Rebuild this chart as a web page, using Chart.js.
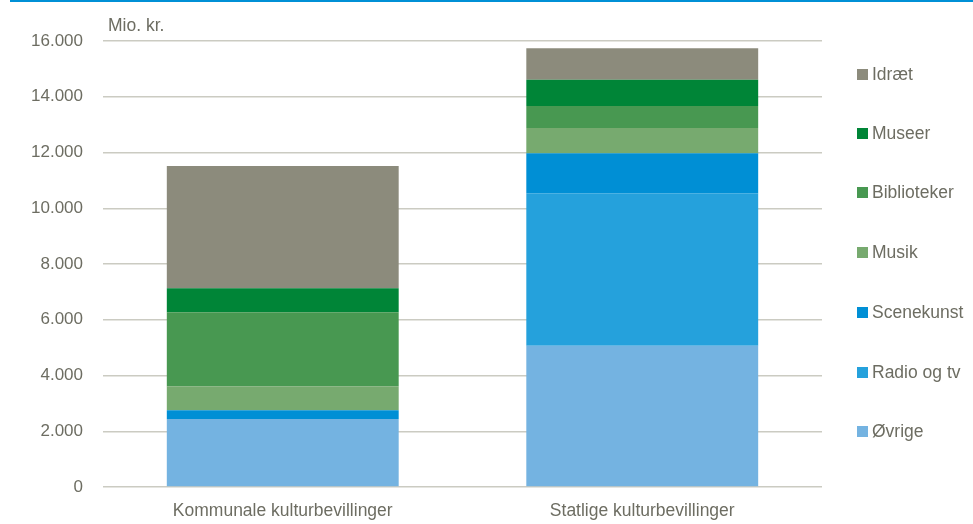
<!DOCTYPE html>
<html>
<head>
<meta charset="utf-8">
<script src="https://cdn.jsdelivr.net/npm/chart.js@4"></script>
<style>
  body { margin: 0; background: #fff; font-family: "Liberation Sans", Arial, sans-serif; }
  #wrap { position: relative; width: 973px; height: 524px; overflow: hidden; }
  #topline { position: absolute; left: 10px; right: 0; top: 0; height: 2px; background: #0090d6; }
  #unit { position: absolute; left: 108px; top: 15px; font-size: 17.5px; color: #6d6d62; }
  #legend { position: absolute; left: 857px; top: 0; }
  .item { position: absolute; left: 0; white-space: nowrap; font-size: 17.5px; color: #6d6d62; line-height: 20px; }
  .item span { display: inline-block; width: 11px; height: 11px; margin-right: 4px; vertical-align: 0px; }
</style>
</head>
<body>
<div id="wrap">
  <canvas id="chart" width="973" height="524"></canvas>
  <div id="topline"></div>
  <div id="unit">Mio. kr.</div>
  <div id="legend"></div>
</div>
<script>
const categories = ["Kommunale kulturbevillinger", "Statlige kulturbevillinger"];
const yTicks = [0, 2000, 4000, 6000, 8000, 10000, 12000, 14000, 16000];

// Mio. kr. (bottom to top of the stack)
const ovrige      = [2440, 5070];
const radioOgTv   = [0, 5470];
const scenekunst  = [310, 1430];
const musik       = [860, 910];
const biblioteker = [2660, 790];
const museer      = [860, 940];
const idraet      = [4385, 1130];

const series = [
  { label: "Øvrige", data: ovrige, color: "#74b3e1" },
  { label: "Radio og tv", data: radioOgTv, color: "#25a1dc" },
  { label: "Scenekunst", data: scenekunst, color: "#008fd5" },
  { label: "Musik", data: musik, color: "#77aa6f" },
  { label: "Biblioteker", data: biblioteker, color: "#489851" },
  { label: "Museer", data: museer, color: "#008537" },
  { label: "Idræt", data: idraet, color: "#8c8b7c" },
];

const fontFamily = '"Liberation Sans", Arial, sans-serif';
const textColor = "#6d6d62";

new Chart(document.getElementById("chart"), {
  type: "bar",
  data: {
    labels: categories,
    datasets: series.map((s) => ({
      label: s.label,
      data: s.data,
      backgroundColor: s.color,
      borderWidth: 0,
      categoryPercentage: 1,
      barPercentage: 0.645,
    })),
  },
  options: {
    responsive: false,
    animation: false,
    layout: { padding: { left: 0, right: 151, top: 41, bottom: 0 } },
    plugins: { legend: { display: false }, tooltip: { enabled: false } },
    scales: {
      x: {
        stacked: true,
        grid: { display: false },
        border: { display: false },
        ticks: { color: textColor, font: { family: fontFamily, size: 17.5 }, padding: 6 },
        afterFit: (scale) => { scale.height = 37; },
      },
      y: {
        stacked: true,
        min: 0,
        max: 16000,
        afterBuildTicks: (scale) => { scale.ticks = yTicks.map((v) => ({ value: v })); },
        grid: { color: "#cbcbc2", lineWidth: 1.5, drawTicks: false },
        border: { display: false },
        ticks: {
          color: textColor,
          font: { family: fontFamily, size: 17 },
          padding: 20,
          callback: (v) => v.toLocaleString("da-DK"),
        },
        afterFit: (scale) => { scale.width = 103; },
      },
    },
  },
});

// legend, top item = last series
const legendY = [74, 133, 192, 252, 312, 372, 431];
const legend = document.getElementById("legend");
series.slice().reverse().forEach((s, i) => {
  const d = document.createElement("div");
  d.className = "item";
  d.style.top = (legendY[i] - 10) + "px";
  d.innerHTML = '<span style="background:' + s.color + '"></span>' + s.label;
  legend.appendChild(d);
});
</script>
</body>
</html>
